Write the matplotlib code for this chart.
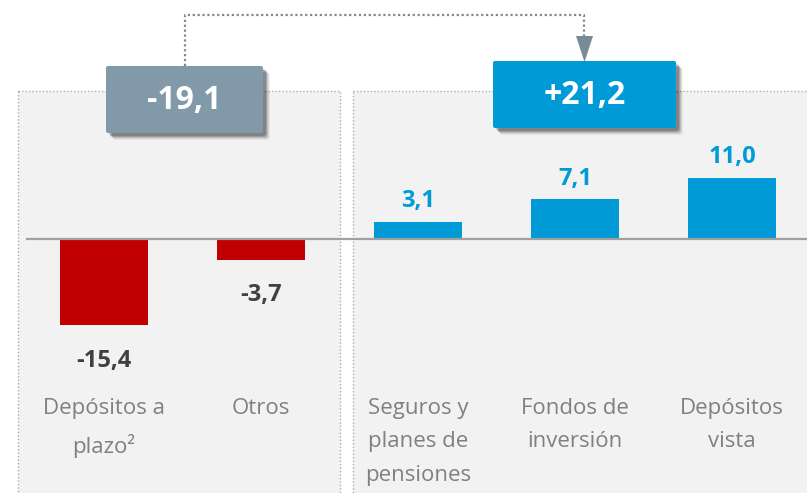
import matplotlib
matplotlib.use("Agg")
import matplotlib.pyplot as plt
from matplotlib.patches import Rectangle, FancyBboxPatch, Polygon

plt.rcParams['font.family'] = ['Open Sans', 'Noto Sans', 'DejaVu Sans']

# ---- data ----
categories = ["Depósitos a\nplazo²", "Otros", "Seguros y\nplanes de\npensiones",
              "Fondos de\ninversión", "Depósitos\nvista"]
values = [-15.4, -3.7, 3.1, 7.1, 11.0]
group_totals = [-19.1, 21.2]

W, H = 807, 493
RED = "#C00000"
BLUE = "#009BD7"
GREYBOX = "#8299AA"
PANEL = "#F2F2F2"

fig = plt.figure(figsize=(W / 100, H / 100), dpi=100)
fig.patch.set_facecolor("white")

# decoration axes in pixel coordinates
deco = fig.add_axes([0, 0, 1, 1], zorder=0)
deco.set_xlim(0, W)
deco.set_ylim(H, 0)
deco.axis("off")

# data axes
ax = fig.add_axes([0, 0, 1, 1], zorder=1)
ax.patch.set_alpha(0)
ax.axis("off")

# panels
for x0, x1 in [(18, 340), (353, 830)]:
    deco.add_patch(Rectangle((x0, 91), x1 - x0, 420, facecolor=PANEL,
                             edgecolor="#ABABAB", linestyle=(0, (1, 1.5)),
                             linewidth=1.0, zorder=1))

def fmt(v, sign=False):
    s = f"{v:+.1f}" if sign else f"{v:.1f}"
    return s.replace(".", ",")

# bars
x = list(range(len(values)))
colors = [RED if v < 0 else BLUE for v in values]
ax.bar(x, values, width=0.56, color=colors, zorder=3)
ax.set_xlim(-104 / 157, (W - 104) / 157)
ax.set_ylim(-(H - 239) / 5.58, 239 / 5.58)

# baseline
ax.plot([(26 - 104) / 157, (W - 104) / 157], [0, 0], color="#A0A0A0",
        linewidth=1.6, zorder=4, solid_capstyle="butt")

# value labels
for xi, v in zip(x, values):
    if v >= 0:
        ax.annotate(fmt(v), (xi, v), xytext=(0, 6), textcoords="offset points",
                    ha="center", va="bottom", color=BLUE, fontsize=17,
                    fontweight="bold", zorder=5)
    else:
        ax.annotate(fmt(v), (xi, v), xytext=(0, -17), textcoords="offset points",
                    ha="center", va="top", color="#404040", fontsize=17,
                    fontweight="bold", zorder=5)

# category labels
for xi, c in zip(x, categories):
    ax.text(xi, -(398 - 239) / 5.58, c, ha="center", va="top", color="#808080",
            fontsize=16, linespacing=1.78, zorder=5)

# connector line
conn = "#7A8B98"
deco.plot([185, 185, 584, 584], [66, 15, 15, 37], color=conn, linewidth=1.6,
          linestyle=(0, (1, 1.2)), zorder=6)
deco.add_patch(Polygon([(576, 36), (593, 36), (584.5, 62)], closed=True,
                       facecolor=conn, edgecolor="none", zorder=6))

# total boxes with shadow
boxes = [((106, 66, 263, 133), GREYBOX, fmt(group_totals[0])),
         ((493, 61, 676, 128), BLUE, fmt(group_totals[1], sign=True))]
for (x0, y0, x1, y1), col, txt in boxes:
    for d, a in [(7, 0.05), (6, 0.08), (5, 0.11), (4, 0.15), (3, 0.18)]:
        deco.add_patch(FancyBboxPatch((x0 + d, y0 + d), x1 - x0, y1 - y0,
                                      boxstyle="round,pad=0,rounding_size=3",
                                      facecolor="black", alpha=a,
                                      edgecolor="none", zorder=7))
    deco.add_patch(FancyBboxPatch((x0, y0), x1 - x0, y1 - y0,
                                  boxstyle="round,pad=0,rounding_size=2",
                                  facecolor=col, edgecolor="none", zorder=8))
    deco.text((x0 + x1) / 2, (y0 + y1) / 2 + 1, txt, ha="center", va="center",
              color="white", fontsize=23, fontweight="bold", zorder=9)

fig.savefig("out.png", dpi=100, facecolor="white")
